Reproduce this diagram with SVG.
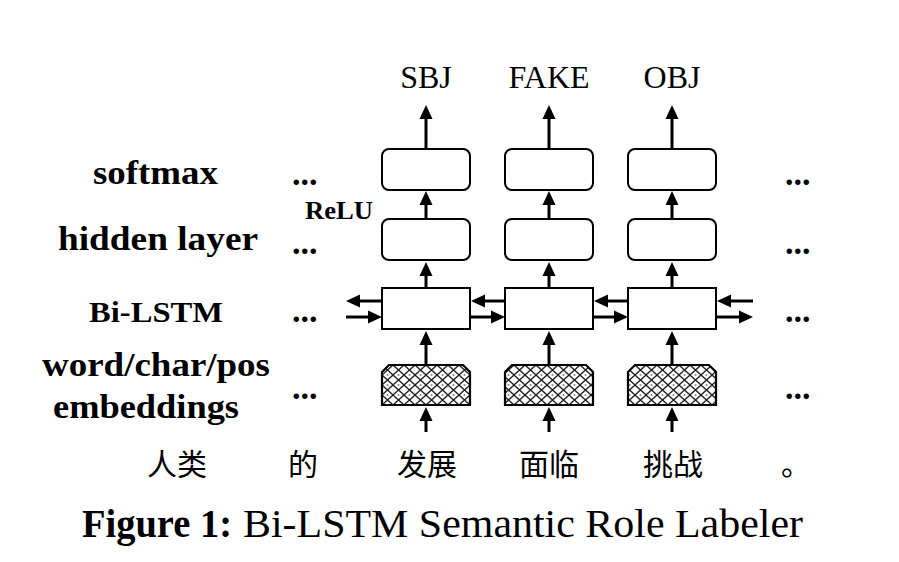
<svg xmlns="http://www.w3.org/2000/svg" width="899" height="562" viewBox="0 0 899 562">
<style>
.bg{fill:#fff}
.lbl{font-family:"Liberation Serif","Times New Roman",serif;font-weight:bold;fill:#000}
.tag{font-family:"Liberation Serif","Times New Roman",serif;font-size:32px;fill:#000;text-anchor:middle}
.zh{font-family:"Noto Sans CJK SC",sans-serif;font-size:30px;fill:#000}
.cap{font-family:"Liberation Serif","Times New Roman",serif;font-size:40px;fill:#000}
.rbox{fill:#fff;stroke:#000;stroke-width:2}
.emb{fill:url(#hatch);stroke:#000;stroke-width:2.2}
.arr{stroke:#000;stroke-width:3;fill:none;marker-end:url(#ah)}
</style>
<defs>
<marker id="ah" viewBox="0 -7 14 14" refX="0" refY="0" markerWidth="14" markerHeight="14" markerUnits="userSpaceOnUse" orient="auto">
<path d="M0,-6.5 L14,0 L0,6.5 z" fill="#000"/>
</marker>
<pattern id="hatch" patternUnits="userSpaceOnUse" width="11" height="10" x="382" y="365">
<rect width="11" height="10" fill="#fff"/>
<path d="M0,0 L11,10 M11,0 L0,10" stroke="#222" stroke-width="1.3"/>
<circle cx="5.5" cy="0" r="1" fill="#888"/>
<circle cx="5.5" cy="10" r="1" fill="#888"/>
</pattern>
</defs>
<rect class="bg" width="899" height="562"/>

<g id="labels">
<text class="lbl" x="93" y="184" font-size="33" textLength="125" lengthAdjust="spacingAndGlyphs">softmax</text>
<text class="lbl" x="58" y="250" font-size="33" textLength="200" lengthAdjust="spacingAndGlyphs">hidden layer</text>
<text class="lbl" x="89" y="322" font-size="30" textLength="134" lengthAdjust="spacingAndGlyphs">Bi-LSTM</text>
<text class="lbl" x="42" y="376" font-size="33" textLength="228" lengthAdjust="spacingAndGlyphs">word/char/pos</text>
<text class="lbl" x="53" y="418" font-size="33" textLength="186" lengthAdjust="spacingAndGlyphs">embeddings</text>
<text class="lbl" x="305" y="219" font-size="26" textLength="68" lengthAdjust="spacingAndGlyphs">ReLU</text>
</g>

<g id="dots">
<text class="lbl" x="292" y="185" font-size="34">...</text>
<text class="lbl" x="292" y="254" font-size="34">...</text>
<text class="lbl" x="292" y="322" font-size="34">...</text>
<text class="lbl" x="292" y="399" font-size="34">...</text>
<text class="lbl" x="785" y="185" font-size="34">...</text>
<text class="lbl" x="785" y="254" font-size="34">...</text>
<text class="lbl" x="785" y="322" font-size="34">...</text>
<text class="lbl" x="785" y="399" font-size="34">...</text>
</g>

<g id="outputs">
<text class="tag" x="426" y="88">SBJ</text>
<text class="tag" x="549" y="88">FAKE</text>
<text class="tag" x="672" y="88">OBJ</text>
</g>

<g id="col1">
<rect id="softmax1" class="rbox" x="382" y="149" width="88" height="41" rx="7"/>
<rect id="hidden1" class="rbox" x="382" y="219" width="88" height="41" rx="7"/>
<rect id="lstm1" class="rbox" x="382" y="288" width="88" height="41"/>
<path id="emb1" class="emb" d="M382,372 L389,365 L463,365 L470,372 L470,405 L382,405 Z"/>
</g>
<g id="col2">
<rect id="softmax2" class="rbox" x="505" y="149" width="88" height="41" rx="7"/>
<rect id="hidden2" class="rbox" x="505" y="219" width="88" height="41" rx="7"/>
<rect id="lstm2" class="rbox" x="505" y="288" width="88" height="41"/>
<path id="emb2" class="emb" d="M505,372 L512,365 L586,365 L593,372 L593,405 L505,405 Z"/>
</g>
<g id="col3">
<rect id="softmax3" class="rbox" x="628" y="149" width="88" height="41" rx="7"/>
<rect id="hidden3" class="rbox" x="628" y="219" width="88" height="41" rx="7"/>
<rect id="lstm3" class="rbox" x="628" y="288" width="88" height="41"/>
<path id="emb3" class="emb" d="M628,372 L635,365 L709,365 L716,372 L716,405 L628,405 Z"/>
</g>

<g id="connectors">
<path class="arr" d="M426,149 V119"/>
<path class="arr" d="M549,149 V119"/>
<path class="arr" d="M672,149 V119"/>
<path class="arr" d="M426,219 V205"/>
<path class="arr" d="M549,219 V205"/>
<path class="arr" d="M672,219 V205"/>
<path class="arr" d="M426,288 V276"/>
<path class="arr" d="M549,288 V276"/>
<path class="arr" d="M672,288 V276"/>
<path class="arr" d="M426,365 V345"/>
<path class="arr" d="M549,365 V345"/>
<path class="arr" d="M672,365 V345"/>
<path class="arr" d="M426,432 V421"/>
<path class="arr" d="M549,432 V421"/>
<path class="arr" d="M672,432 V421"/>
<path class="arr" d="M382,301 H360"/>
<path class="arr" d="M346,317 H368"/>
<path class="arr" d="M505,301 H485"/>
<path class="arr" d="M470,317 H491"/>
<path class="arr" d="M628,301 H608"/>
<path class="arr" d="M593,317 H614"/>
<path class="arr" d="M753,301 H731"/>
<path class="arr" d="M716,317 H739"/>
</g>

<g id="words">
<text class="zh" x="147" y="475">人类</text>
<text class="zh" x="288" y="475">的</text>
<text class="zh" x="397" y="475">发展</text>
<text class="zh" x="519" y="475">面临</text>
<text class="zh" x="643" y="475">挑战</text>
<text class="zh" x="781" y="475">。</text>
</g>

<g id="caption">
<text class="cap" x="82" y="537" font-weight="bold" textLength="150" lengthAdjust="spacingAndGlyphs">Figure 1:</text>
<text class="cap" x="243" y="537" textLength="560" lengthAdjust="spacingAndGlyphs">Bi-LSTM Semantic Role Labeler</text>
</g>
</svg>
